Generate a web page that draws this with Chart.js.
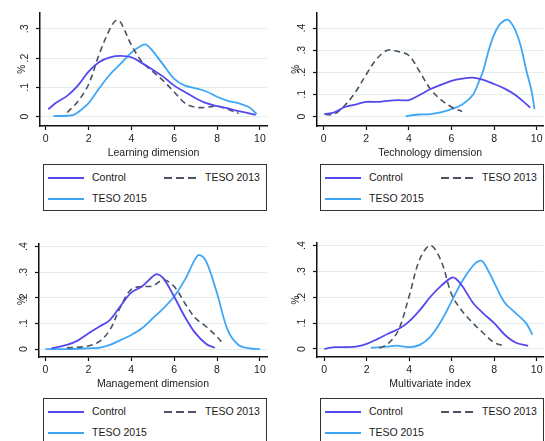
<!DOCTYPE html>
<html>
<head>
<meta charset="utf-8">
<script src="https://cdn.jsdelivr.net/npm/chart.js@4/dist/chart.umd.min.js"></script>
<style>
  html, body { margin: 0; padding: 0; background: #fff; }
  body { width: 545px; height: 441px; position: relative; overflow: hidden; font-family: 'Liberation Sans', Arial, sans-serif; }
  canvas { position: absolute; }
  .legend { position: absolute; border: 1.5px solid #333; box-sizing: border-box; background: #fff; }
  .legend .ln { position: absolute; height: 0; }
  .legend .tx { position: absolute; font-size: 10.5px; color: #1a1a1a; line-height: 12px; white-space: nowrap; }
</style>
</head>
<body>
<canvas id="c1" width="272" height="162" style="left:0;top:0"></canvas>
<canvas id="c2" width="273" height="162" style="left:272px;top:0"></canvas>
<canvas id="c3" width="272" height="163" style="left:0;top:230px"></canvas>
<canvas id="c4" width="273" height="163" style="left:272px;top:230px"></canvas>
<div id="legends"></div>
<script>
// ---- data ----
const seriesNames = ['Control', 'TESO 2013', 'TESO 2015'];
const panelTitles = ['Learning dimension', 'Technology dimension', 'Management dimension', 'Multivariate index'];
const yTitle = '%';
const xTicks = [0, 2, 4, 6, 8, 10];
const xTickLabels = ['0', '2', '4', '6', '8', '10'];
const yTicks3 = [0, 0.1, 0.2, 0.3];
const yTicks4 = [0, 0.1, 0.2, 0.3, 0.4];
const yTickLabels = ['0', '.1', '.2', '.3', '.4'];

// Learning dimension
const learnControlX = [0.12,0.5,1,1.5,2,2.5,3,3.5,4,4.5,5,5.5,6,6.5,7,7.5,8,8.5,9,9.5,9.8];
const learnControlY = [0.025,0.048,0.071,0.106,0.154,0.187,0.203,0.208,0.203,0.183,0.160,0.136,0.106,0.084,0.063,0.046,0.036,0.028,0.019,0.011,0.006];
const learn13X = [1,1.5,2,2.5,3,3.3,3.5,4,4.5,5,5.5,6,6.5,7,7.5,8,8.5,9];
const learn13Y = [0.014,0.052,0.110,0.214,0.300,0.330,0.322,0.245,0.187,0.154,0.122,0.084,0.046,0.032,0.032,0.036,0.025,0.011];
const learn15X = [0.36,1,1.3,1.6,2,2.5,3,3.5,4,4.5,4.7,5,5.5,6,6.5,7,7.5,8,8.5,9,9.5,9.85];
const learn15Y = [0.002,0.003,0.006,0.020,0.046,0.097,0.144,0.181,0.219,0.244,0.246,0.224,0.176,0.129,0.106,0.097,0.086,0.068,0.054,0.046,0.032,0.009];

// Technology dimension
const techControlX = [0.03,0.5,1,1.5,2,2.5,3,3.5,4,4.5,5,5.5,6,6.5,7,7.5,8,8.5,9,9.5,9.7];
const techControlY = [0.011,0.019,0.043,0.054,0.066,0.066,0.071,0.074,0.074,0.097,0.123,0.143,0.161,0.171,0.176,0.166,0.147,0.126,0.097,0.057,0.040];
const tech13X = [0.08,0.5,1,1.5,2,2.5,3,3.5,4,4.5,5,5.5,6,6.5];
const tech13Y = [0.009,0.011,0.051,0.111,0.190,0.261,0.300,0.294,0.276,0.204,0.126,0.076,0.043,0.023];
const tech15X = [3.85,4,4.5,5,5.5,6,6.5,7,7.3,7.5,7.75,8,8.25,8.5,8.7,9,9.25,9.5,9.75,9.9];
const tech15Y = [0.000,0.004,0.009,0.011,0.019,0.033,0.054,0.097,0.160,0.210,0.300,0.370,0.415,0.435,0.435,0.390,0.320,0.215,0.120,0.033];

// Management dimension
const manControlX = [0.28,0.5,1,1.5,2,2.5,3,3.5,4,4.5,5,5.2,5.5,6,6.5,7,7.5,7.9];
const manControlY = [0.003,0.007,0.016,0.033,0.061,0.087,0.113,0.168,0.220,0.244,0.283,0.292,0.276,0.205,0.126,0.061,0.020,0.005];
const man13X = [1,1.5,2,2.5,3,3.5,4,4.5,5,5.5,6,6.5,7,7.5,8,8.2];
const man13Y = [0.005,0.007,0.012,0.029,0.074,0.165,0.233,0.244,0.246,0.270,0.244,0.179,0.120,0.087,0.048,0.029];
const man15X = [0,1,2,2.5,3,3.5,4,4.5,5,5.5,6,6.5,7,7.2,7.5,8,8.5,9,9.5,10];
const man15Y = [0,0,0.003,0.005,0.016,0.035,0.055,0.081,0.120,0.159,0.205,0.270,0.354,0.367,0.341,0.218,0.074,0.016,0.003,0];

// Multivariate index
const multControlX = [0,0.3,0.5,1,1.5,2,2.5,3,3.5,4,4.5,5,5.5,6,6.2,6.5,7,7.5,8,8.5,9,9.6];
const multControlY = [0,0.005,0.007,0.007,0.009,0.020,0.038,0.059,0.077,0.107,0.150,0.202,0.244,0.276,0.272,0.244,0.179,0.137,0.100,0.055,0.025,0.012];
const mult13X = [2.6,3,3.5,4,4.5,5,5.5,6,6.5,7,7.5,8,8.5];
const mult13Y = [0.003,0.020,0.074,0.205,0.348,0.400,0.341,0.211,0.146,0.100,0.061,0.025,0.012];
const mult15X = [2.2,3,3.4,4,4.5,5,5.5,6,6.5,7,7.3,7.5,8,8.5,9,9.5,9.8];
const mult15Y = [0.005,0.009,0.013,0.007,0.016,0.048,0.107,0.185,0.263,0.322,0.341,0.335,0.257,0.179,0.140,0.100,0.055];

// ---- styles ----
const colControl = '#5548ee';
const col13 = '#4b5262';
const col15 = '#3ea6f7';
const FONT = "'Liberation Sans', Arial, sans-serif";

function pts(xs, ys) { return xs.map((x, i) => ({ x: x, y: ys[i] })); }

function makeChart(id, title, cx, cy, c13x, c13y, c15x, c15y, L) {
  const ticksY = L.yTicks;
  new Chart(document.getElementById(id), {
    type: 'line',
    data: {
      datasets: [
        { label: seriesNames[0], data: pts(cx, cy), borderColor: colControl, borderWidth: 1.8, pointRadius: 0, tension: 0.35, fill: false },
        { label: seriesNames[1], data: pts(c13x, c13y), borderColor: col13, borderWidth: 1.6, borderDash: [6, 4], pointRadius: 0, tension: 0.35, fill: false },
        { label: seriesNames[2], data: pts(c15x, c15y), borderColor: col15, borderWidth: 1.8, pointRadius: 0, tension: 0.35, fill: false }
      ]
    },
    options: {
      responsive: false,
      animation: false,
      events: [],
      layout: { padding: { top: L.padTop, right: L.padRight, left: 0, bottom: 0 } },
      plugins: { legend: { display: false }, tooltip: { enabled: false } },
      scales: {
        x: {
          type: 'linear', min: L.xmin, max: L.xmax,
          afterBuildTicks: s => { s.ticks = xTicks.map(v => ({ value: v })); },
          afterFit: s => { s.height = 36; },
          grid: { drawOnChartArea: false, drawTicks: true, tickLength: 4, tickColor: '#111', tickWidth: 1.2 },
          border: { color: '#111', width: 1.5 },
          ticks: { autoSkip: false, maxRotation: 0, padding: 2.5, color: '#222', font: { family: FONT, size: 10.5 },
                   callback: (v, i) => xTickLabels[i] },
          title: { display: true, text: title, color: '#222', font: { family: FONT, size: 10.5 }, padding: { top: 0, bottom: 2.5 } }
        },
        y: {
          type: 'linear', min: L.ymin, max: L.ymax,
          afterBuildTicks: s => { s.ticks = ticksY.map(v => ({ value: v })); },
          afterFit: s => { s.width = L.yWidth; },
          grid: { drawOnChartArea: true, color: '#e2ecec', lineWidth: 1, drawTicks: true, tickLength: 4, tickColor: '#111', tickWidth: 1.2 },
          border: { color: '#111', width: 1.5 },
          ticks: { autoSkip: false, minRotation: 90, maxRotation: 90, crossAlign: 'center', padding: 6.5, color: '#222',
                   font: { family: FONT, size: 10.5 }, callback: (v, i) => yTickLabels[i] },
          title: { display: true, text: yTitle, color: '#222', font: { family: FONT, size: 10 }, padding: { top: L.yTitlePad, bottom: 0 } }
        }
      }
    }
  });
}

makeChart('c1', panelTitles[0], learnControlX, learnControlY, learn13X, learn13Y, learn15X, learn15Y,
  { yTicks: yTicks3, padTop: 6, padRight: 5, yWidth: 40, xmin: -0.266, xmax: 10.33, ymin: -0.032, ymax: 0.355, yTitlePad: 16 });
makeChart('c2', panelTitles[1], techControlX, techControlY, tech13X, tech13Y, tech15X, tech15Y,
  { yTicks: yTicks4, padTop: 7, padRight: 0, yWidth: 45, xmin: -0.31, xmax: 10.31, ymin: -0.043, ymax: 0.469, yTitlePad: 18 });
makeChart('c3', panelTitles[2], manControlX, manControlY, man13X, man13Y, man15X, man15Y,
  { yTicks: yTicks4, padTop: 14, padRight: 5, yWidth: 39, xmin: -0.3, xmax: 10.33, ymin: -0.031, ymax: 0.41, yTitlePad: 16 });
makeChart('c4', panelTitles[3], multControlX, multControlY, mult13X, mult13Y, mult15X, mult15Y,
  { yTicks: yTicks4, padTop: 13, padRight: 0, yWidth: 45, xmin: -0.34, xmax: 10.31, ymin: -0.031, ymax: 0.41, yTitlePad: 18 });

// ---- legends (HTML) ----
const legendBoxes = [[43, 164], [320, 164], [43, 398], [320, 398]];
const legendItems = [
  { name: seriesNames[0], color: colControl, dash: false, lx: 4, tx: 48, y: 13 },
  { name: seriesNames[1], color: col13, dash: true, lx: 120, tx: 161, y: 13 },
  { name: seriesNames[2], color: col15, dash: false, lx: 4, tx: 48, y: 34 }
];
const host = document.getElementById('legends');
legendBoxes.forEach(([lx, ly]) => {
  const box = document.createElement('div');
  box.className = 'legend';
  box.style.left = lx + 'px'; box.style.top = ly + 'px';
  box.style.width = '224px'; box.style.height = '47px';
  legendItems.forEach(it => {
    const ln = document.createElement('div');
    ln.className = 'ln';
    ln.style.left = it.lx + 'px'; ln.style.top = (it.y - 1) + 'px';
    ln.style.width = (it.dash ? 32 : 36) + 'px';
    ln.style.borderTop = '2px solid ' + it.color;
    if (it.dash) {
      ln.style.borderTop = 'none';
      ln.style.height = '2px';
      ln.style.background = 'repeating-linear-gradient(90deg,' + it.color + ' 0 8px, transparent 8px 12px)';
    }
    box.appendChild(ln);
    const tx = document.createElement('div');
    tx.className = 'tx';
    tx.style.left = it.tx + 'px'; tx.style.top = (it.y - 7) + 'px';
    tx.textContent = it.name;
    box.appendChild(tx);
  });
  host.appendChild(box);
});
</script>
</body>
</html>
